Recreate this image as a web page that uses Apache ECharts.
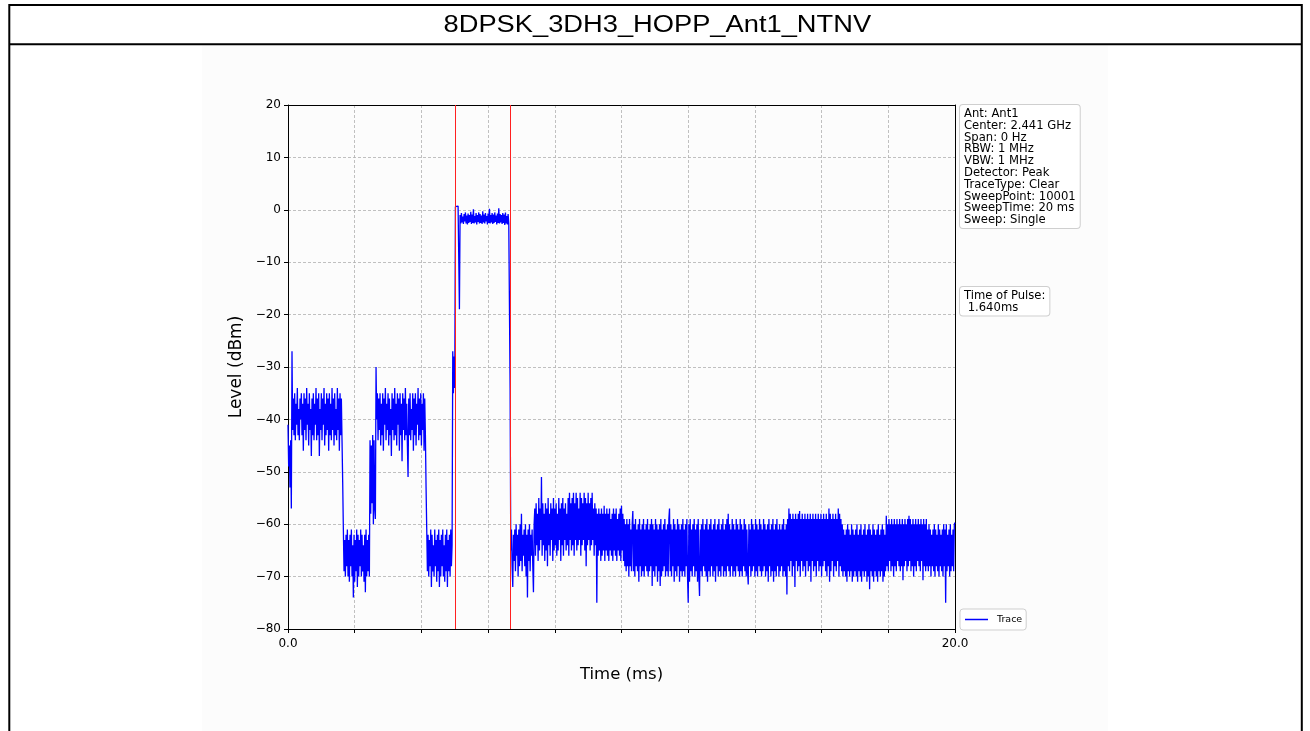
<!DOCTYPE html>
<html>
<head>
<meta charset="utf-8">
<script src="https://cdn.jsdelivr.net/npm/echarts@6/dist/echarts.min.js"></script>
<style>
html,body{margin:0;padding:0;background:#fff;overflow:hidden;}
#chart{width:1310px;height:731px;}
</style>
</head>
<body>
<div id="chart"></div>
<script>
// ---- data ----
const chartTitle = '8DPSK_3DH3_HOPP_Ant1_NTNV';
const SWEEP_STEP_MS = 0.02;           // one sample every 0.02 ms (0 .. 20 ms), 10 samples per row
const traceLevelsDbm = [
  -41, -49, -45, -53, -44, -57, -27, -42, -36, -43,   // 0.00
  -35, -44, -37, -41, -34, -43, -38, -44, -36, -40,   // 0.20
  -35, -43, -37, -46, -35, -42, -36, -44, -34, -41,   // 0.40
  -37, -45, -35, -42, -38, -47, -36, -43, -35, -44,   // 0.60
  -37, -41, -34, -44, -36, -43, -35, -47, -38, -42,   // 0.80
  -35, -44, -36, -41, -34, -45, -37, -43, -35, -42,   // 1.00
  -36, -46, -35, -43, -37, -44, -34, -42, -36, -45,   // 1.20
  -35, -43, -38, -44, -34, -42, -36, -46, -35, -43,   // 1.40
  -36, -44, -52, -61, -69, -63, -70, -62, -68, -61,   // 1.60
  -70, -63, -71, -62, -68, -61, -70, -64, -74, -62,   // 1.80
  -71, -63, -69, -61, -72, -62, -70, -63, -68, -61,   // 2.00
  -70, -62, -69, -64, -71, -62, -73, -61, -70, -63,   // 2.20
  -69, -62, -70, -44, -58, -45, -56, -43, -60, -44,   // 2.40
  -57, -59, -30, -40, -35, -44, -36, -42, -35, -45,   // 2.60
  -37, -43, -35, -46, -36, -41, -34, -44, -37, -42,   // 2.80
  -35, -45, -36, -43, -38, -47, -35, -42, -36, -44,   // 3.00
  -34, -43, -37, -45, -35, -41, -36, -46, -35, -43,   // 3.20
  -37, -48, -35, -42, -36, -44, -34, -43, -37, -45,   // 3.40
  -51, -36, -43, -35, -44, -38, -42, -35, -46, -36,   // 3.60
  -43, -35, -45, -37, -41, -34, -44, -36, -43, -35,   // 3.80
  -45, -37, -42, -35, -46, -36, -43, -53, -61, -69,   // 4.00
  -62, -70, -63, -68, -61, -72, -62, -69, -64, -70,   // 4.20
  -61, -68, -63, -71, -62, -69, -61, -72, -63, -70,   // 4.40
  -62, -68, -61, -70, -64, -71, -62, -69, -61, -72,   // 4.60
  -63, -69, -62, -70, -61, -68, -64, -27, -35, -28,   // 4.80
  -34, 0.6, 0.7, 0.6, 0.6, 0.7, 0.5, -19, -1.0, -2.6, // 5.00
  -0.6, -2.4, -1.3, -2.7, -0.8, -2.2, -0.5, -2.6, -1.1, -2.8, // 5.20
  -0.7, -2.5, -1.0, -2.3, -0.4, -2.7, -0.9, -2.5, 0.1, -2.6,  // 5.40
  -1.2, -2.4, -0.6, -2.8, -1.0, -2.3, -0.5, -2.6, -0.8, -2.5, // 5.60
  -1.1, -2.7, -0.3, -2.4, -0.9, -2.6, -0.6, -2.2, -1.2, -2.8, // 5.80
  -0.7, -2.5, 0.2, -2.6, -1.0, -2.4, -0.6, -2.7, -0.9, -2.5,  // 6.00
  -0.5, -2.3, -1.1, -2.8, -0.7, -2.5, 0.3, -2.6, -0.8, -2.4,  // 6.20
  -1.0, -2.7, -0.6, -2.5, -0.9, -2.9, -0.5, -2.6, -1.2, -2.8, // 6.40
  -0.8, -2.6, -2.4, -34, -65, -61, -68, -72, -62, -67,        // 6.60
  -61, -69, -60, -66, -62, -70, -61, -68, -60, -67,   // 6.80
  -58, -69, -62, -66, -61, -68, -60, -70, -62, -74,   // 7.00
  -61, -67, -60, -69, -62, -66, -61, -68, -73, -60,   // 7.20
  -57, -66, -56, -64, -58, -67, -55, -65, -57, -63,   // 7.40
  -51, -66, -56, -64, -58, -67, -56, -65, -57, -68,   // 7.60
  -55, -64, -58, -66, -56, -63, -57, -67, -55, -65,   // 7.80
  -57, -64, -56, -66, -58, -65, -55, -63, -57, -67,   // 8.00
  -56, -64, -55, -66, -57, -63, -56, -65, -58, -64,   // 8.20
  -55, -66, -54, -63, -56, -65, -55, -64, -54, -66,   // 8.40
  -56, -63, -54, -65, -55, -64, -57, -63, -54, -66,   // 8.60
  -55, -64, -56, -63, -54, -65, -55, -68, -56, -64,   // 8.80
  -54, -63, -56, -65, -55, -64, -54, -63, -57, -66,   // 9.00
  -56, -64, -57, -75, -58, -66, -57, -65, -58, -67,   // 9.20
  -57, -66, -58, -65, -56.5, -67, -58, -65, -57, -66, // 9.40
  -58, -67, -57, -65, -59, -66, -58, -67, -57, -65,   // 9.60
  -58, -66, -57, -67, -59, -65, -58, -66, -57, -67,   // 9.80
  -56.5, -65, -58, -67, -59, -68, -60, -69, -59, -68, // 10.00
  -60, -70, -59, -68, -61, -69, -60, -57.5, -69, -60, // 10.20
  -70, -59, -68, -61, -69, -60, -71, -59, -68, -61,   // 10.40
  -70, -60, -69, -59, -70, -61, -68, -60, -69, -59,   // 10.60
  -70, -61, -69, -60, -68, -59, -71.8, -60, -69, -61, // 10.80
  -70, -59, -68, -60, -71, -61, -69, -60, -71.8, -59, // 11.00
  -70, -61, -69, -60, -68, -59, -70, -61, -69, -60,   // 11.20
  -70, -59, -57, -69, -60, -70, -61, -68, -59, -71,   // 11.40
  -60, -69, -61, -70, -59, -68, -60, -71, -61, -69,   // 11.60
  -60, -70, -59, -69, -61, -70, -60, -68, -59, -70,   // 11.80
  -75, -60, -71, -59, -69, -61, -70, -60, -68, -59,   // 12.00
  -70, -61, -69, -60, -71, -59, -70, -73.7, -61, -69, // 12.20
  -60, -70, -59, -68, -61, -69, -60, -70, -59, -71,   // 12.40
  -61, -69, -60, -70, -59, -68, -61, -70, -60, -69,   // 12.60
  -59, -71, -61, -68, -60, -70, -59, -69, -61, -70,   // 12.80
  -60, -68, -59, -70, -61, -69, -60, -70, -59, -68,   // 13.00
  -58, -69, -60, -70, -61, -68, -59, -70, -60, -69,   // 13.20
  -61, -70, -59, -68, -60, -69, -61, -70, -59, -69,   // 13.40
  -60, -70, -61, -68, -59, -69, -60, -70, -61, -69,   // 13.60
  -71.5, -60, -68, -61, -70, -59, -69, -60, -68, -61, // 13.80
  -70, -59, -69, -60, -70, -61, -68, -59, -69, -60,   // 14.00
  -70, -61, -69, -59, -68, -60, -70, -61, -69, -60,   // 14.20
  -71, -59, -68, -61, -70, -60, -69, -59, -71, -61,   // 14.40
  -69, -60, -70, -59, -68, -61, -70, -60, -69, -61,   // 14.60
  -68, -60, -70, -59, -69, -61, -70, -60, -73.4, -59, // 14.80
  -68, -57, -69, -58, -67, -59, -70, -58, -68, -59,   // 15.00
  -72, -58, -67, -59, -69, -58, -68, -57.5, -70, -59, // 15.20
  -67, -58, -69, -59, -68, -58, -70, -59, -67, -58,   // 15.40
  -69, -59, -68, -58, -71, -59, -67, -58, -69, -59,   // 15.60
  -68, -58, -70, -59, -67, -58, -69, -59, -68, -58,   // 15.80
  -70, -59, -68, -58, -67, -59, -69, -58, -70, -59,   // 16.00
  -68, -57, -71, -58, -69, -59, -67, -58, -70, -59,   // 16.20
  -68, -58, -69, -59, -67, -57, -70, -58, -68, -59,   // 16.40
  -69, -60, -70, -61, -69, -62, -70, -61, -71, -60,   // 16.60
  -69, -61, -70, -62, -69, -60, -71, -61, -70, -62,   // 16.80
  -69, -61, -70, -60, -71, -62, -69, -61, -70, -60,   // 17.00
  -71, -62, -69, -61, -70, -60, -69, -62, -71, -61,   // 17.20
  -70, -60, -72.4, -61, -69, -62, -70, -60, -71, -61, // 17.40
  -69, -62, -70, -61, -71, -60, -69, -62, -70, -61,   // 17.60
  -69, -60, -71, -61, -70, -62, -69, -58.4, -68, -60, // 17.80
  -69, -59, -67, -60, -69, -59, -68, -60, -70, -59,   // 18.00
  -68, -60, -69, -59, -67, -60, -68, -59, -69, -60,   // 18.20
  -68, -59, -70.7, -60, -68, -59, -67, -60, -69, -59, // 18.40
  -68, -58.4, -67, -59, -69, -60, -68, -59, -70, -60, // 18.60
  -68, -59, -69, -60, -67, -59, -68, -60, -69, -59,   // 18.80
  -67, -60, -70.7, -59, -68, -60, -69, -59, -68, -61, // 19.00
  -69, -60, -68, -61, -70, -62, -68, -61, -69, -60,   // 19.20
  -70, -61, -68, -62, -69, -60, -70, -61, -68, -62,   // 19.40
  -69, -61, -70, -60, -68, -61, -75, -60, -69, -62,   // 19.60
  -68, -61, -70, -60, -69, -62, -68, -61, -69, -60,   // 19.80
  -59.7                                               // 20.00
];
const markerTimesMs = [5.01, 6.65];
const xLabeledTicks = [0, 20];
const infoLines = ['Ant: Ant1', 'Center: 2.441 GHz', 'Span: 0 Hz', 'RBW: 1 MHz', 'VBW: 1 MHz',
  'Detector: Peak', 'TraceType: Clear', 'SweepPoint: 10001', 'SweepTime: 20 ms', 'Sweep: Single'];
const pulseLines = ['Time of Pulse:', ' 1.640ms'];
const seriesName = 'Trace';

// ---- chart ----
const tracePoints = traceLevelsDbm.map((v, i) => [+(i * SWEEP_STEP_MS).toFixed(2), v]);
const FONT = 'DejaVu Sans';
const chart = echarts.init(document.getElementById('chart'), null, {renderer: 'canvas'});

const boxStyle = {
  font: '11.6px "DejaVu Sans"',
  fill: '#000',
  lineHeight: 11.8,
  backgroundColor: '#fff',
  borderColor: '#cfcfcf',
  borderWidth: 1,
  borderRadius: 3,
  padding: [3, 4, 2, 4],
  align: 'left', verticalAlign: 'top',
  textAlign: 'left', textVerticalAlign: 'top'
};

chart.setOption({
  animation: false,
  backgroundColor: '#fff',
  grid: {left: 288, top: 105, width: 667, height: 524, show: false},
  graphic: [
    {type: 'rect', z: -10, silent: true, shape: {x: 202, y: 45, width: 906, height: 700}, style: {fill: '#fcfcfc'}},
    {type: 'rect', z: 100, silent: true, shape: {x: 9.3, y: 5, width: 1292.5, height: 800}, style: {fill: 'none', stroke: '#000', lineWidth: 2}},
    {type: 'line', z: 100, silent: true, shape: {x1: 9.3, y1: 44.3, x2: 1301.8, y2: 44.3}, style: {stroke: '#000', lineWidth: 2}},
    {type: 'text', z: 100, silent: true, x: 657.3, y: 26, scaleX: 1.186,
      style: {text: chartTitle, font: '23px "Liberation Sans"', fill: '#000',
        align: 'center', verticalAlign: 'middle', textAlign: 'center', textVerticalAlign: 'middle'}},
    {type: 'text', z: 100, silent: true, x: 960, y: 105, style: Object.assign({text: infoLines.join('\n')}, boxStyle)},
    {type: 'text', z: 100, silent: true, x: 960, y: 287, style: Object.assign({text: pulseLines.join('\n')}, boxStyle)}
  ],
  legend: {
    data: [seriesName],
    left: 960, top: 609,
    orient: 'vertical',
    icon: 'rect',
    padding: [5, 4, 5, 5],
    itemWidth: 23, itemHeight: 1.5,
    itemStyle: {color: '#0000ff', borderWidth: 0},
    backgroundColor: '#fff',
    borderColor: '#cfcfcf', borderWidth: 1, borderRadius: 3,
    textStyle: {fontFamily: FONT, fontSize: 9.5, color: '#000', padding: [0, 0, 0, 4], lineHeight: 11}
  },
  xAxis: [{
    type: 'value', min: 0, max: 20, interval: 2,
    name: 'Time (ms)', nameLocation: 'middle', nameGap: 37,
    nameTextStyle: {fontFamily: FONT, fontSize: 16.5, color: '#000'},
    axisLine: {show: true, onZero: false, lineStyle: {color: '#000', width: 1}},
    axisTick: {show: true, length: 4, lineStyle: {color: '#000', width: 1}},
    axisLabel: {show: true, margin: 9, fontFamily: FONT, fontSize: 12, color: '#000',
      formatter: v => xLabeledTicks.indexOf(v) >= 0 ? v.toFixed(1) : ''},
    splitLine: {show: true, lineStyle: {color: '#b0b0b0', width: 0.8, type: [3, 2]}}
  }, {
    type: 'value', min: 0, max: 20, position: 'top',
    axisLine: {show: true, onZero: false, lineStyle: {color: '#000', width: 1}},
    axisTick: {show: false}, axisLabel: {show: false}, splitLine: {show: false}
  }],
  yAxis: [{
    type: 'value', min: -80, max: 20, interval: 10,
    name: 'Level (dBm)', nameLocation: 'middle', nameGap: 42,
    nameTextStyle: {fontFamily: FONT, fontSize: 17, color: '#000'},
    axisLine: {show: true, onZero: false, lineStyle: {color: '#000', width: 1}},
    axisTick: {show: true, length: 4, lineStyle: {color: '#000', width: 1}},
    axisLabel: {show: true, margin: 7, fontFamily: FONT, fontSize: 12, color: '#000',
      formatter: v => String(v).replace('-', '\u2212')},
    splitLine: {show: true, lineStyle: {color: '#b0b0b0', width: 0.8, type: [3, 2]}}
  }, {
    type: 'value', min: -80, max: 20, position: 'right',
    axisLine: {show: true, onZero: false, lineStyle: {color: '#000', width: 1}},
    axisTick: {show: false}, axisLabel: {show: false}, splitLine: {show: false}
  }],
  series: [{
    name: seriesName,
    type: 'line',
    xAxisIndex: 0, yAxisIndex: 0,
    data: tracePoints,
    symbol: 'none',
    showSymbol: false,
    clip: true,
    lineStyle: {color: '#0000ff', width: 1.3},
    itemStyle: {color: '#0000ff'},
    markLine: {
      silent: true,
      symbol: ['none', 'none'],
      label: {show: false},
      lineStyle: {color: '#ff2020', width: 1, type: 'solid'},
      data: markerTimesMs.map(t => ({xAxis: t}))
    }
  }]
});
</script>
</body>
</html>
